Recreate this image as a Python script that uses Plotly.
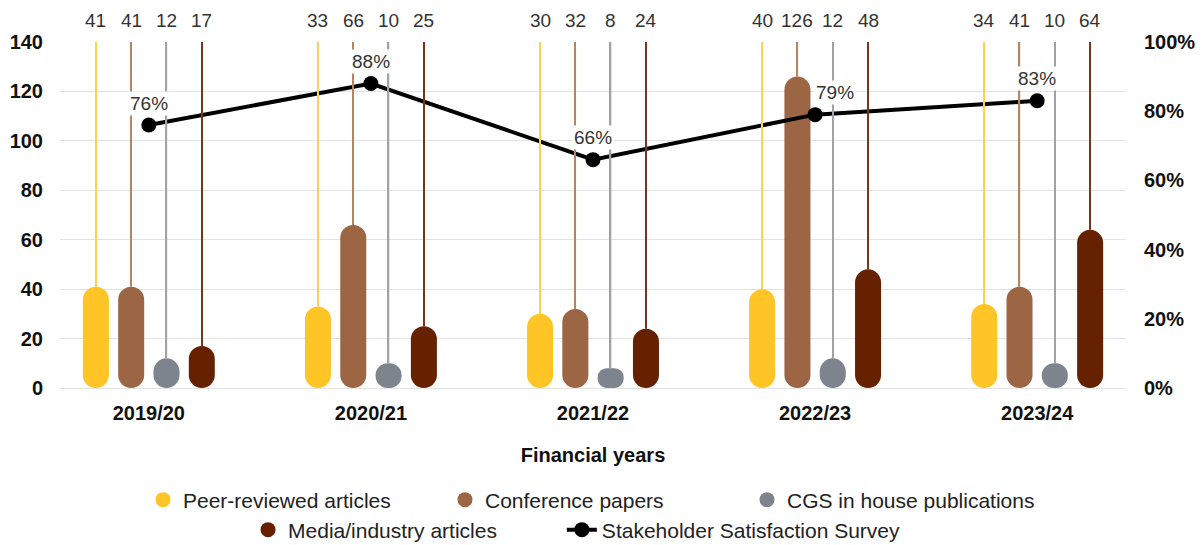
import plotly.graph_objects as go

years = ["2019/20", "2020/21", "2021/22", "2022/23", "2023/24"]
peer_reviewed = [41, 33, 30, 40, 34]
conference = [41, 66, 32, 126, 41]
cgs_inhouse = [12, 10, 8, 12, 10]
media = [17, 25, 24, 48, 64]
satisfaction = [0.76, 0.88, 0.66, 0.79, 0.83]

series_names = ["Peer-reviewed articles", "Conference papers",
                "CGS in house publications", "Media/industry articles"]
series_values = [peer_reviewed, conference, cgs_inhouse, media]
colors = ["#FFC425", "#9C6644", "#7E848D", "#662200"]
stem_colors = ["#FFCF55", "#B38565", "#9FA3A9", "#7A3418"]

Y_MAX = 140
FONT = "Liberation Sans, Arial, sans-serif"

fig = go.Figure()

for k, (name, vals, col, scol) in enumerate(zip(series_names, series_values, colors, stem_colors)):
    grp = f"g{k}"
    # thin stem from bar top up to the top of the axis (own axis so it does not affect rounding)
    fig.add_trace(go.Bar(
        x=years, base=vals, y=[Y_MAX - v for v in vals], width=0.006, yaxis="y4",
        offsetgroup=grp, marker=dict(color=scol, line=dict(width=0)),
        showlegend=False, hoverinfo="skip"))
    # the bar itself: drawn from its top down to zero, rounded at both ends
    fig.add_trace(go.Bar(
        x=years, base=vals, y=[-v for v in vals],
        offsetgroup=grp, marker=dict(color=col, cornerradius="50%", line=dict(width=0)),
        showlegend=False, customdata=vals, hovertemplate="%{customdata}<extra>" + name + "</extra>"))
    # legend entry as a circle
    fig.add_trace(go.Scatter(
        x=[None], y=[None], mode="markers", name=name,
        marker=dict(color=col, size=15, symbol="circle"),
        legend="legend" if k < 3 else "legend2"))

# value labels above the plot
slot_px = 35.3
for k, vals in enumerate(series_values):
    for yr, v in zip(years, vals):
        fig.add_annotation(
            x=yr, y=Y_MAX, xref="x", yref="y", text=str(v), showarrow=False,
            xshift=(k - 1.5) * slot_px, yshift=22,
            font=dict(family=FONT, size=19, color="#333333"))

fig.add_trace(go.Scatter(
    x=years, y=satisfaction, yaxis="y2", mode="lines+markers",
    name="Stakeholder Satisfaction Survey",
    line=dict(color="#000000", width=4),
    marker=dict(color="#000000", size=15),
    legend="legend3"))

label_xshift = [0, 0, 0, 20, 0]
for yr, s, xs in zip(years, satisfaction, label_xshift):
    fig.add_annotation(
        x=yr, y=s, xref="x", yref="y2", text=f"{round(s*100)}%", showarrow=False,
        yshift=22, xshift=xs, bgcolor="#FFFFFF", borderpad=1,
        font=dict(family=FONT, size=19, color="#333333"))

legend_font = dict(family=FONT, size=21, color="#222222")
hidden_axis = dict(range=[0, Y_MAX], overlaying="y", visible=False, showgrid=False, zeroline=False)
fig.update_layout(
    width=1202, height=545,
    margin=dict(l=60, r=76, t=42, b=157, autoexpand=False),
    paper_bgcolor="#FFFFFF", plot_bgcolor="#FFFFFF",
    barmode="group", bargap=0.364, bargroupgap=0.263,
    font=dict(family=FONT, size=18, color="#111111"),
    xaxis=dict(
        type="category", range=[-0.4, 4.4],
        showgrid=False, showline=False, zeroline=False, ticks="",
        tickfont=dict(family=FONT, size=20, color="#111111", weight="bold"),
        ticklabelstandoff=11,
        title=dict(text="Financial years", standoff=24,
                   font=dict(family=FONT, size=20, color="#111111", weight="bold")),
    ),
    yaxis=dict(
        range=[0, Y_MAX], dtick=20, showgrid=True, gridcolor="#E3E3E3", gridwidth=1,
        zeroline=True, zerolinecolor="#E3E3E3", zerolinewidth=1, showline=False,
        ticks="", ticklabelstandoff=16,
        tickfont=dict(family=FONT, size=20, color="#111111", weight="bold"),
    ),
    yaxis2=dict(
        range=[0, 1], dtick=0.2, tickformat=".0%", overlaying="y", side="right",
        showgrid=False, zeroline=False, showline=False, ticks="", ticklabelstandoff=17,
        tickfont=dict(family=FONT, size=20, color="#111111", weight="bold"),
    ),
    yaxis4=hidden_axis,
    legend=dict(
        orientation="h", x=0.5028, xanchor="center", y=-0.3237, yanchor="middle",
        entrywidth=257, font=legend_font, bgcolor="rgba(0,0,0,0)",
        itemclick=False, itemdoubleclick=False, traceorder="normal",
    ),
    legend2=dict(
        orientation="h", x=0.1764, xanchor="left", y=-0.4104, yanchor="middle",
        font=legend_font, bgcolor="rgba(0,0,0,0)", itemclick=False, itemdoubleclick=False,
    ),
    legend3=dict(
        orientation="h", x=0.4708, xanchor="left", y=-0.4104, yanchor="middle",
        font=legend_font, bgcolor="rgba(0,0,0,0)", itemclick=False, itemdoubleclick=False,
    ),
    showlegend=True,
)

fig.write_html("out.html")
